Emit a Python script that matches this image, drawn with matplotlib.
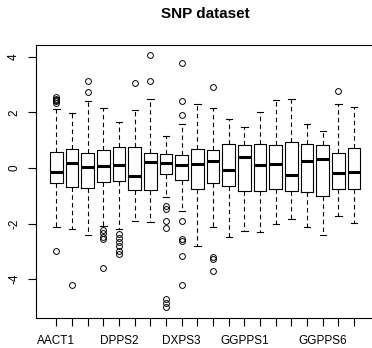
import matplotlib
matplotlib.use("Agg")
import matplotlib.pyplot as plt

plt.rcParams['font.family'] = ['Liberation Sans', 'DejaVu Sans']
plt.rcParams['axes.unicode_minus'] = False

categories = ["AACT1", "AACT2", "CMK", "DPPS1", "DPPS2", "DPPS3", "DXPS1", "DXPS2",
              "DXPS3", "DXR", "FPPS1", "FPPS2", "GGPPS1", "GGPPS2", "GGPPS3", "GGPPS4",
              "GGPPS5", "GGPPS6", "GGPPS7", "GGPPS8"]
shown_labels = ["AACT1", "DPPS2", "DXPS3", "GGPPS1", "GGPPS6"]

whisker_hi = [2.14, 1.99, 2.41, 2.17, 1.64, 2.08, 2.50, 1.14, 1.59, 2.30,
              2.17, 1.76, 1.48, 2.00, 2.44, 2.47, 1.60, 1.35, 2.32, 2.20]
q3 = [0.58, 0.70, 0.54, 0.66, 0.74, 0.74, 0.55, 0.52, 0.48, 0.70,
      0.66, 0.86, 0.84, 0.88, 0.84, 0.92, 0.87, 0.82, 0.54, 0.72]
median = [-0.13, 0.18, 0.04, 0.07, 0.10, -0.29, 0.23, 0.19, 0.11, 0.16,
          0.27, -0.06, 0.38, 0.12, 0.16, -0.25, 0.25, 0.33, -0.17, -0.13]
q1 = [-0.53, -0.69, -0.73, -0.49, -0.45, -0.78, -0.80, -0.23, -0.43, -0.74,
      -0.53, -0.65, -0.82, -0.83, -0.77, -0.83, -0.88, -0.99, -0.76, -0.76]
whisker_lo = [-2.13, -2.18, -2.41, -2.08, -2.20, -1.90, -1.95, -1.05, -1.54, -2.79,
              -2.13, -2.47, -2.26, -2.29, -2.03, -1.85, -2.14, -2.41, -1.72, -1.97]
outliers = [
    [2.35, 2.40, 2.45, 2.50, 2.55, -3.00],
    [-4.20],
    [2.72, 3.12],
    [-2.22, -2.35, -2.47, -2.55, -3.61],
    [-2.37, -2.51, -2.67, -2.82, -2.97, -3.09],
    [3.05],
    [3.14, 4.07],
    [-1.35, -1.47, -1.92, -2.15, -4.72, -4.87, -4.99],
    [1.91, 2.40, 3.79, -1.92, -2.55, -2.61, -3.16, -4.20],
    [],
    [2.90, -3.19, -3.26, -3.69],
    [], [], [], [], [], [], [],
    [2.76],
    [],
]

stats = []
for i, name in enumerate(categories):
    stats.append(dict(label=name, med=median[i], q1=q1[i], q3=q3[i],
                      whislo=whisker_lo[i], whishi=whisker_hi[i], fliers=outliers[i]))

fig = plt.figure(figsize=(3.72, 3.48), dpi=100)
ax = fig.add_axes([36/372, (348-318)/348, 340/372, (318-45)/348])

positions = list(range(1, len(categories) + 1))
ax.bxp(stats, positions=positions, widths=0.8, showfliers=True,
       boxprops=dict(color='black', linewidth=0.8),
       medianprops=dict(color='black', linewidth=2.2, solid_capstyle='butt'),
       whiskerprops=dict(color='black', linewidth=0.8, linestyle=(0, (4, 3))),
       capprops=dict(color='black', linewidth=0.8),
       capwidths=0.4,
       flierprops=dict(marker='o', markerfacecolor='none', markeredgecolor='black',
                       markersize=4.2, markeredgewidth=0.7, linestyle='none'))

ax.set_xlim(-0.3, 21.4)
ax.set_ylim(-5.40, 4.43)
ax.set_xticks(positions)
ax.set_xticklabels([c if c in shown_labels else "" for c in categories], fontsize=8.5)
ax.set_yticks([-4, -2, 0, 2, 4])
ax.set_yticklabels(["-4", "-2", "0", "2", "4"], rotation=90, va='center', fontsize=8.5)
ax.tick_params(axis='both', direction='out', length=5.5, width=0.8, color='black')
ax.tick_params(axis='x', pad=6.5)
ax.tick_params(axis='y', pad=6)
ax.spines['right'].set_visible(False)
for s in ax.spines.values():
    s.set_linewidth(0.8)
    s.set_color('black')

fig.text(205/372, 1 - 14/348, "SNP dataset", ha='center', va='center',
         fontsize=11, fontweight='bold')

fig.savefig("out.png", dpi=100)
